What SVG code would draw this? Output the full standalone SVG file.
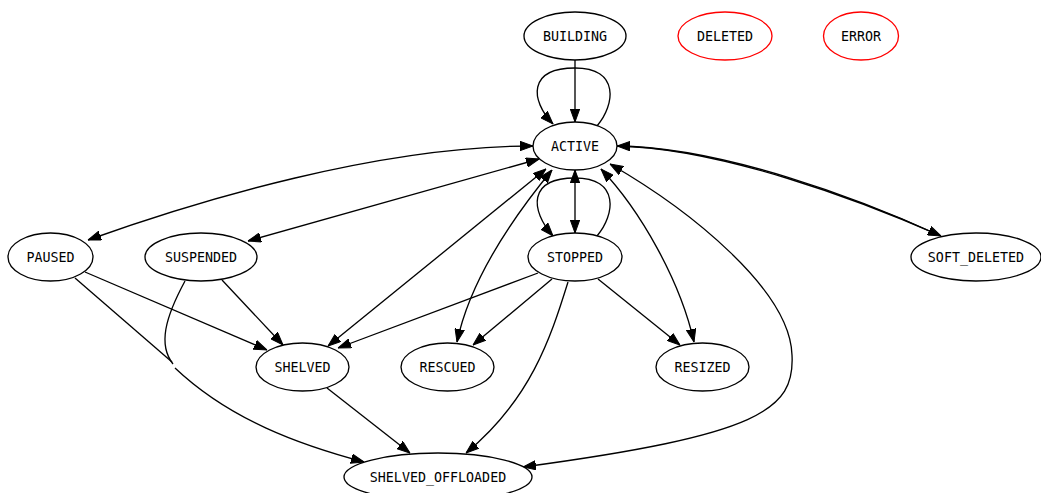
<svg xmlns="http://www.w3.org/2000/svg" width="1041" height="493" viewBox="0 0 1041 493">
<style>
.n ellipse{fill:#fff;stroke:#000;stroke-width:1.33}
.n.red ellipse{stroke:#ff0000}
.n text{font-family:"DejaVu Sans Mono","Liberation Mono",monospace;font-size:13.33px;text-anchor:middle;fill:#000}
#edges path{fill:none;stroke:#000;stroke-width:1.33}
.e{marker-end:url(#ah)}
.s{marker-start:url(#ah)}
.b{marker-start:url(#ah);marker-end:url(#ah)}
</style>
<defs>
<marker id="ah" viewBox="0 0 13 10" refX="13" refY="5" markerWidth="13" markerHeight="10" orient="auto-start-reverse" markerUnits="userSpaceOnUse">
<path d="M0,0.3 L13,5 L0,9.7 Z" fill="#000" stroke="#000" stroke-width="1"/>
</marker>
</defs>
<rect width="1041" height="493" fill="#fff"/>
<g id="edges">
<path class="e" d="M575,60 L575,122"/>
<path class="e" d="M597,126 C615,105 620,68 575,68 C528,68 530,100 553,124"/>
<path class="b" d="M575,170 L575,233"/>
<path class="e" d="M597,236 C615,215 620,178 575,178 C528,178 530,210 553,236"/>
<path class="b" d="M88,240 C200,200 380,146 533,146"/>
<path class="b" d="M248,241 L539,159"/>
<path class="b" d="M546,169 L328,346"/>
<path class="b" d="M552,170 C515,215 470,280 457,342"/>
<path class="b" d="M601,169 C640,210 680,280 694,342"/>
<path class="b" d="M610,164 C690,210 790,290 792,355 C795,410 760,435 523,467"/>
<path class="e" d="M617,146 C720,148 860,200 941,236"/>
<path class="s" d="M617,146 C722,147 858,198 941,236"/>
<path class="e" d="M85,272 L267,350"/>
<path d="M75,278 L172,362"/>
<path d="M185,281 C165,318 158,345 173,364"/>
<path class="e" d="M175,368 C230,420 300,445 364,462"/>
<path class="e" d="M222,280 L283,345"/>
<path class="e" d="M538,273 L338,348"/>
<path class="e" d="M552,279 L473,345"/>
<path class="e" d="M598,279 L680,345"/>
<path class="e" d="M568,282 C550,340 530,400 466,453"/>
<path class="e" d="M327,388 L410,453"/>
</g>
<g id="BUILDING" class="n"><ellipse cx="575" cy="36" rx="51" ry="24"/><text x="575" y="40.5">BUILDING</text></g>
<g id="DELETED" class="n red"><ellipse cx="725" cy="36" rx="47" ry="24"/><text x="725" y="40.5">DELETED</text></g>
<g id="ERROR" class="n red"><ellipse cx="861" cy="36" rx="37.5" ry="24"/><text x="861" y="40.5">ERROR</text></g>
<g id="ACTIVE" class="n"><ellipse cx="575" cy="146" rx="42" ry="24"/><text x="575" y="150.5">ACTIVE</text></g>
<g id="PAUSED" class="n"><ellipse cx="50.5" cy="257" rx="42.5" ry="24"/><text x="50.5" y="261.5">PAUSED</text></g>
<g id="SUSPENDED" class="n"><ellipse cx="201" cy="257" rx="56" ry="24"/><text x="201" y="261.5">SUSPENDED</text></g>
<g id="STOPPED" class="n"><ellipse cx="575" cy="257" rx="47" ry="24"/><text x="575" y="261.5">STOPPED</text></g>
<g id="SOFT_DELETED" class="n"><ellipse cx="976" cy="257" rx="65" ry="24"/><text x="976" y="261.5">SOFT_DELETED</text></g>
<g id="SHELVED" class="n"><ellipse cx="302.5" cy="367" rx="46.5" ry="24"/><text x="302.5" y="371.5">SHELVED</text></g>
<g id="RESCUED" class="n"><ellipse cx="447.5" cy="367" rx="46.5" ry="24"/><text x="447.5" y="371.5">RESCUED</text></g>
<g id="RESIZED" class="n"><ellipse cx="702.5" cy="367" rx="46.5" ry="24"/><text x="702.5" y="371.5">RESIZED</text></g>
<g id="SHELVED_OFFLOADED" class="n"><ellipse cx="438" cy="477" rx="94" ry="24"/><text x="438" y="481.5">SHELVED_OFFLOADED</text></g>
</svg>
